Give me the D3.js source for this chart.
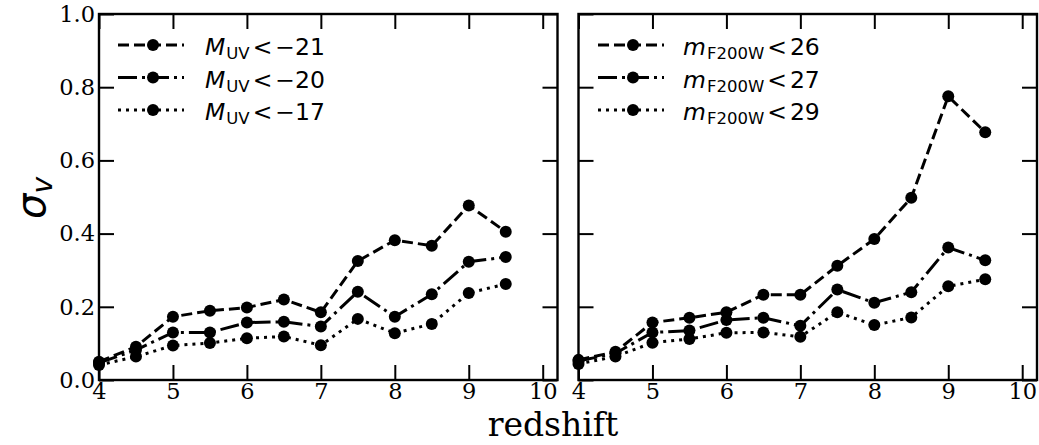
<!DOCTYPE html>
<html>
<head>
<meta charset="utf-8">
<script src="https://cdn.jsdelivr.net/npm/d3@7"></script>
<style>
  body { margin: 0; background: #fff; }
  svg { display: block; }
</style>
</head>
<body>
<div id="viz"></div>
<script>
const redshift = [4, 4.5, 5, 5.5, 6, 6.5, 7, 7.5, 8, 8.5, 9, 9.5]

// left panel: M_UV cuts
const muv21 = [0.050, 0.091, 0.173, 0.189, 0.198, 0.220, 0.185, 0.325, 0.382, 0.367, 0.477, 0.405]
const muv20 = [0.047, 0.082, 0.130, 0.130, 0.157, 0.159, 0.146, 0.241, 0.173, 0.234, 0.323, 0.336]
const muv17 = [0.041, 0.064, 0.094, 0.101, 0.114, 0.119, 0.095, 0.167, 0.128, 0.153, 0.238, 0.262]

// right panel: m_F200W cuts
const mf26 = [0.055, 0.077, 0.157, 0.170, 0.185, 0.233, 0.233, 0.312, 0.385, 0.498, 0.775, 0.677]
const mf27 = [0.052, 0.073, 0.130, 0.135, 0.164, 0.170, 0.148, 0.247, 0.211, 0.240, 0.362, 0.327]
const mf29 = [0.044, 0.064, 0.102, 0.112, 0.129, 0.130, 0.118, 0.185, 0.150, 0.171, 0.256, 0.275]

const xTicks = [4, 5, 6, 7, 8, 9, 10]
const yTicks = [0, 0.2, 0.4, 0.6, 0.8, 1.0]

const width = 1039
const height = 445
const plotTop = 14, plotBottom = 380

// matplotlib-like dash patterns at lw 3
const dashes = {dashed: "11,5", dashdot: "19,5,3,5", dotted: "3,5"}

const panels = [
    {left: 99, right: 557.5, yLabels: true, legendX: 118, textX: 205,
     series: [
        {values: muv21, style: "dashed", sym: "M", sub: "UV", op: "<", num: "\u221221"},
        {values: muv20, style: "dashdot", sym: "M", sub: "UV", op: "<", num: "\u221220"},
        {values: muv17, style: "dotted", sym: "M", sub: "UV", op: "<", num: "\u221217"}]},
    {left: 578.5, right: 1037, yLabels: false, legendX: 598, textX: 683,
     series: [
        {values: mf26, style: "dashed", sym: "m", sub: "F200W", op: "<", num: "26"},
        {values: mf27, style: "dashdot", sym: "m", sub: "F200W", op: "<", num: "27"},
        {values: mf29, style: "dotted", sym: "m", sub: "F200W", op: "<", num: "29"}]}
]

const svg = d3.select("#viz").append("svg")
    .attr("width", width)
    .attr("height", height)

const yScale = d3.scaleLinear().domain([0, 1]).range([plotBottom, plotTop])

panels.forEach(p => {
    const xScale = d3.scaleLinear().domain([4, 10.2]).range([p.left, p.right])
    const g = svg.append("g")

    // axes, ticks pointing inward on all sides
    const tl = 15
    g.append("g").attr("transform", `translate(0,${plotBottom})`)
        .call(d3.axisBottom(xScale).tickValues(xTicks).tickSizeInner(-tl).tickSizeOuter(0).tickPadding(3).tickFormat(d3.format("d")))
    g.append("g").attr("transform", `translate(0,${plotTop})`)
        .call(d3.axisTop(xScale).tickValues(xTicks).tickSizeInner(-tl).tickSizeOuter(0).tickFormat(""))
    g.append("g").attr("transform", `translate(${p.left},0)`)
        .call(d3.axisLeft(yScale).tickValues(yTicks).tickSizeInner(-tl).tickSizeOuter(0).tickPadding(4)
            .tickFormat(p.yLabels ? d3.format(".1f") : ""))
    g.append("g").attr("transform", `translate(${p.right},0)`)
        .call(d3.axisRight(yScale).tickValues(yTicks).tickSizeInner(-tl).tickSizeOuter(0).tickFormat(""))
    g.selectAll(".domain").remove()
    g.selectAll(".tick line").attr("stroke", "#000").attr("stroke-width", 2)
    g.selectAll(".tick text")
        .attr("font-family", "DejaVu Serif, serif")
        .attr("font-size", 22.5)
        .attr("fill", "#000")
    g.append("rect")
        .attr("x", p.left).attr("y", plotTop)
        .attr("width", p.right - p.left).attr("height", plotBottom - plotTop)
        .attr("fill", "none").attr("stroke", "#000").attr("stroke-width", 2.4)

    const line = d3.line().x((d, i) => xScale(redshift[i])).y(d => yScale(d))

    p.series.forEach(s => {
        g.append("path")
            .datum(s.values)
            .attr("d", line)
            .attr("fill", "none")
            .attr("stroke", "#000")
            .attr("stroke-width", 3)
            .attr("stroke-dasharray", dashes[s.style])
        g.selectAll(null)
            .data(s.values)
            .join("circle")
            .attr("cx", (d, i) => xScale(redshift[i]))
            .attr("cy", d => yScale(d))
            .attr("r", 6)
            .attr("fill", "#000")
    })

    // legend
    const rowY = [45, 77.5, 110]
    p.series.forEach((s, i) => {
        const ly = rowY[i]
        g.append("line")
            .attr("x1", p.legendX).attr("x2", p.legendX + 66)
            .attr("y1", ly).attr("y2", ly)
            .attr("stroke", "#000").attr("stroke-width", 3)
            .attr("stroke-dasharray", dashes[s.style])
        g.append("circle").attr("cx", p.legendX + 35).attr("cy", ly).attr("r", 6).attr("fill", "#000")
        const t = g.append("text")
            .attr("x", p.textX).attr("y", ly + 10)
            .attr("font-family", "DejaVu Sans, sans-serif")
            .attr("font-size", 23.5)
        t.append("tspan").attr("font-style", "italic").text(s.sym)
        t.append("tspan").attr("font-size", 16.5).attr("dy", 4).attr("dx", 1).text(s.sub)
        t.append("tspan").attr("dy", -4).attr("dx", 3).text(s.op)
        t.append("tspan").attr("dx", 3).text(s.num)
    })
})

svg.append("text")
    .attr("x", 553).attr("y", 436)
    .attr("text-anchor", "middle")
    .attr("font-family", "DejaVu Serif, serif")
    .attr("font-size", 33)
    .text("redshift")

const yl = svg.append("text")
    .attr("transform", "translate(45,198) rotate(-90)")
    .attr("text-anchor", "middle")
    .attr("font-family", "DejaVu Sans, sans-serif")
    .attr("font-size", 40)
yl.append("tspan").attr("font-style", "italic").text("\u03c3")
yl.append("tspan").attr("font-style", "italic").attr("font-size", 28).attr("dy", 7).text("v")
</script>
</body>
</html>
